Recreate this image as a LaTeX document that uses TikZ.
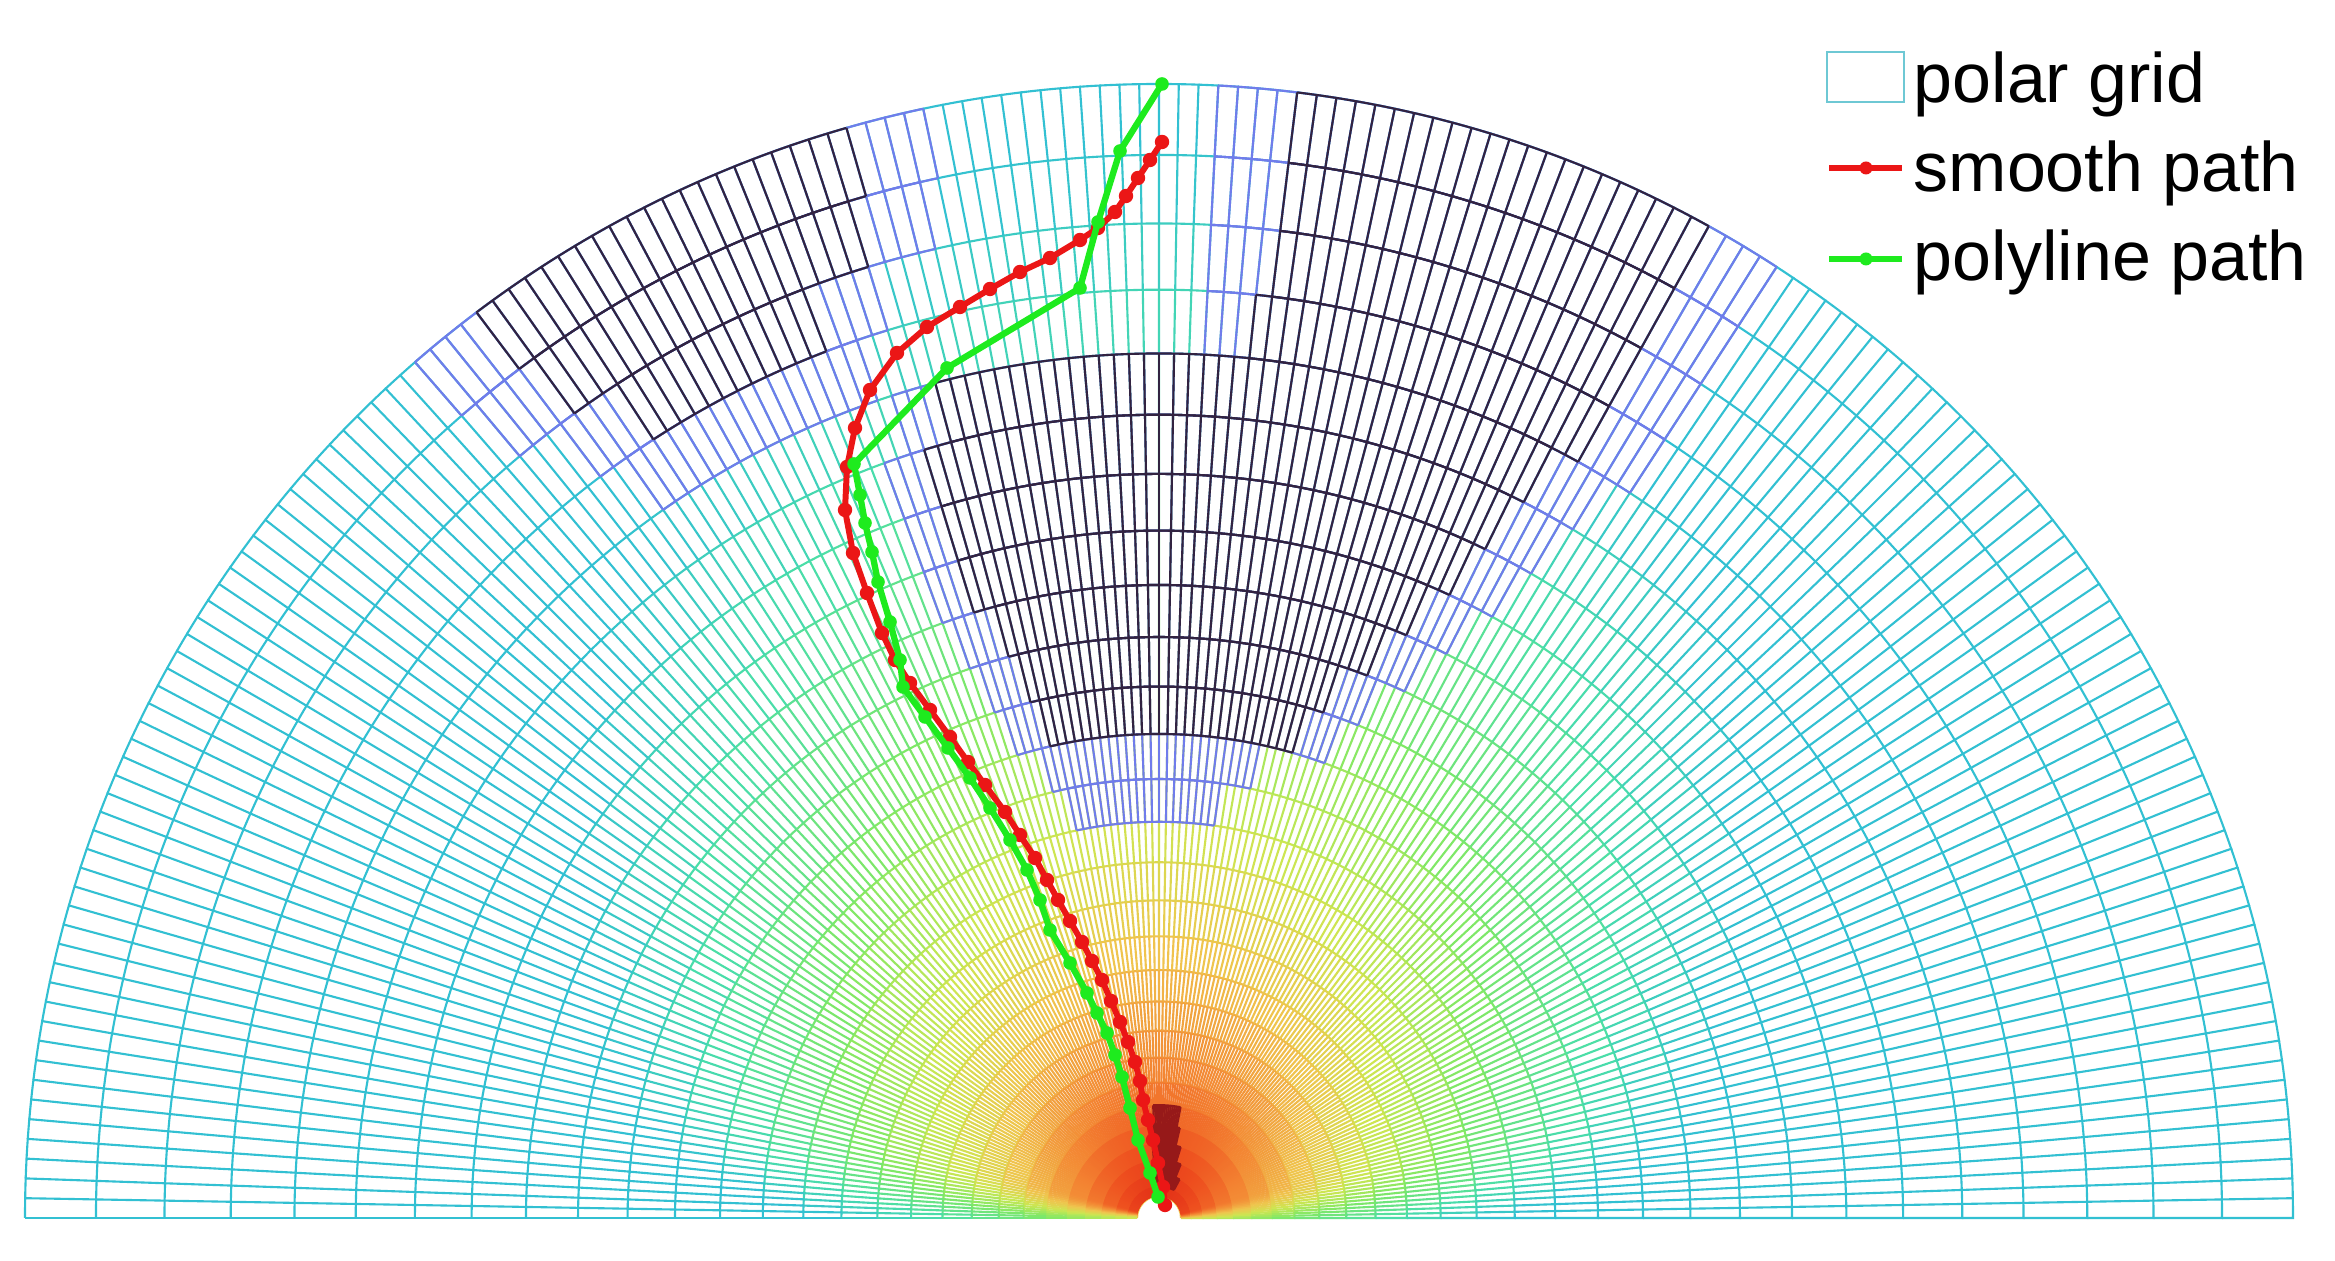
\documentclass[tikz,border=0pt]{standalone}
\usepackage{fontspec}
\setmainfont{Liberation Sans}
\definecolor{S0}{RGB}{222,35,20}
\definecolor{S1}{RGB}{238,78,30}
\definecolor{S2}{RGB}{243,132,50}
\definecolor{S3}{RGB}{240,196,78}
\definecolor{S4}{RGB}{205,230,82}
\definecolor{S5}{RGB}{128,232,102}
\definecolor{S6}{RGB}{75,222,168}
\definecolor{S7}{RGB}{50,192,210}
\definecolor{obdark}{RGB}{50,35,65}
\definecolor{obblue}{RGB}{112,124,235}
\definecolor{obred}{RGB}{150,25,25}
\definecolor{pathred}{RGB}{235,22,22}
\definecolor{pathgreen}{RGB}{30,235,30}
\definecolor{legcyan}{RGB}{110,200,212}
\tikzset{
  gl/.style={line width=0.6pt},
  redpath/.style={pathred,line width=1.7pt,line join=round},
  greenpath/.style={pathgreen,line width=1.8pt,line join=round},
  legtext/.style={anchor=base west,inner sep=0pt,font=\fontsize{19.9}{24}\selectfont}
}
\newcommand\mixcc[4]{\pgfmathtruncatemacro\mypct{100*(#4-\myre)/(#4-#3)}\colorlet{cc}{#1!\mypct!#2}}
\newcommand\setcc[1]{%
  \pgfmathsetmacro\myre{#1}%
  \ifdim\myre pt<30pt \mixcc{S0}{S1}{0}{30}\else
  \ifdim\myre pt<65pt \mixcc{S1}{S2}{30}{65}\else
  \ifdim\myre pt<120pt \mixcc{S2}{S3}{65}{120}\else
  \ifdim\myre pt<180pt \mixcc{S3}{S4}{120}{180}\else
  \ifdim\myre pt<260pt \mixcc{S4}{S5}{180}{260}\else
  \ifdim\myre pt<370pt \mixcc{S5}{S6}{260}{370}\else
  \ifdim\myre pt<480pt \mixcc{S6}{S7}{370}{480}\else
  \colorlet{cc}{S7}\fi\fi\fi\fi\fi\fi\fi}
\newcommand\obst[4]{%
  \pgfmathtruncatemacro\kmo{#1-1}%
  \edef\rin{\csname rr\kmo\endcsname}\edef\rout{\csname rr#1\endcsname}%
  \draw[gl,#4] (#2:\rin) arc[start angle=#2,end angle=#3,radius=\rin];
  \draw[gl,#4] (#2:\rout) arc[start angle=#2,end angle=#3,radius=\rout];
  \foreach \ang in {#2,...,#3}{\draw[gl,#4] (\ang:\rin) -- (\ang:\rout);}%
}
\begin{document}
\begin{tikzpicture}[x=0.01cm,y=0.01cm]
\fill[white] (0,0) rectangle (2335,1261);
\useasboundingbox (0,0) rectangle (2335,1261);
\begin{scope}[shift={(1159,43)}]
  \foreach \kk in {5,...,33}{\pgfmathsetmacro\tmp{1134*pow(\kk/33,2.1)}\expandafter\xdef\csname rr\kk\endcsname{\tmp}}
  \draw[gl,S3] (0:\csname rr5\endcsname) arc[start angle=0,end angle=180,radius=\csname rr5\endcsname];
  \foreach \kk in {6,...,33}{
    \pgfmathtruncatemacro\kmo{\kk-1}
    \edef\rin{\csname rr\kmo\endcsname}
    \edef\rout{\csname rr\kk\endcsname}
    \pgfmathsetmacro\rmid{(\rin+\rout)/2}
    \foreach \jj in {0,...,179}{
      \pgfmathsetmacro\myphi{min(\jj+0.5,179.5-\jj)}
      \setcc{\rmid*(1-0.55*sin(\jj+0.5))+(\myphi<15)*150*(1-\myphi/15)^2}
      \draw[gl,cc] (\jj:\rin) -- (\jj:\rout) arc[start angle=\jj,end angle=\jj+1,radius=\rout];
    }
    \setcc{\rmid+150}
    \draw[gl,cc] (180:\rin) -- (180:\rout);
  }
  % inflated (blue) cells
  \foreach \kk/\aa/\bb in {33/102/131,32/103/130,31/107/127,30/109/125,
     33/57/87,32/57/87,31/57/87,30/57/87,29/59/108,28/60/110,27/61/110,26/63/110,
     25/65/109,24/68/108,23/70/107,22/78/104,21/82/102}{\obst{\kk}{\aa}{\bb}{obblue}}
  % obstacle (dark) cells
  \foreach \kk/\aa/\bb in {33/106/127,32/107/126,31/111/123,
     33/61/83,32/61/83,31/61/83,30/61/84,29/63/105,28/64/107,27/65/107,26/67/107,
     25/69/105,24/72/104,23/74/103}{\obst{\kk}{\aa}{\bb}{obdark}}
  % start region
  \foreach \kk/\aa/\bb in {7/62/98,8/68/97,9/73/95,10/77/94,11/79/93}{\obst{\kk}{\aa}{\bb}{obred}}
\end{scope}
\begin{scope}[shift={(0,1261)},yscale=-1]
  \foreach \px/\py [count=\i] in {1162/142,1150/160,1138/178,1126/196,1115/212,1098/228,1080/240,1050/258,1020/272,990/289,
    960/307,927/327,897/353,870/390,855/428,847/467,845/510,853/553,867/593,882/633,
    895/660,910/683,930/710,950/737,968/762,985/785,1005/812,1020/835,1035/858,1047/880,
    1058/900,1070/921,1082/942,1092/961,1102/980,1111/1001,1120/1022,1128/1042,1135/1062,1140/1081,
    1143/1100,1148/1120,1153/1140,1158/1163,1163/1187,1165/1205}{\coordinate (r\i) at (\px,\py);}
  \foreach \px/\py [count=\i] in {1162/84,1120/151,1098/222,1080/288,947/368,854/464,860/495,865/523,872/552,878/582,
    890/622,900/660,903/687,925/717,948/748,970/778,990/808,1010/840,1027/870,1040/900,
    1050/930,1070/963,1087/993,1097/1013,1107/1033,1115/1055,1122/1077,1130/1108,1138/1140,1150/1173,1158/1197}{\coordinate (g\i) at (\px,\py);}
  \draw[redpath] (r1) \foreach \i in {2,...,46}{ -- (r\i)};
  \foreach \i in {1,...,46}{\fill[pathred] (r\i) circle[radius=7.2];}
  \draw[greenpath] (g1) \foreach \i in {2,...,31}{ -- (g\i)};
  \foreach \i in {1,...,31}{\fill[pathgreen] (g\i) circle[radius=6.8];}
  % legend
  \node[draw=legcyan,line width=0.6pt,minimum width=0.77cm,minimum height=0.5cm,inner sep=0pt] (lbox) at (1865.5,77) {};
  \node[legtext] (lt1) at (1913,103) {polar grid};
  \node[legtext] (lt2) at (1913,192) {smooth path};
  \node[legtext] (lt3) at (1913,281) {polyline path};
  \coordinate (lra) at (1829,168); \coordinate (lrb) at (1902,168); \coordinate (lrc) at (1866,168);
  \coordinate (lga) at (1829,259); \coordinate (lgb) at (1902,259); \coordinate (lgc) at (1866,259);
  \draw[redpath] (lra) -- (lrb);
  \fill[pathred] (lrc) circle[radius=6.5];
  \draw[greenpath] (lga) -- (lgb);
  \fill[pathgreen] (lgc) circle[radius=6.5];
\end{scope}
\end{tikzpicture}
\end{document}
